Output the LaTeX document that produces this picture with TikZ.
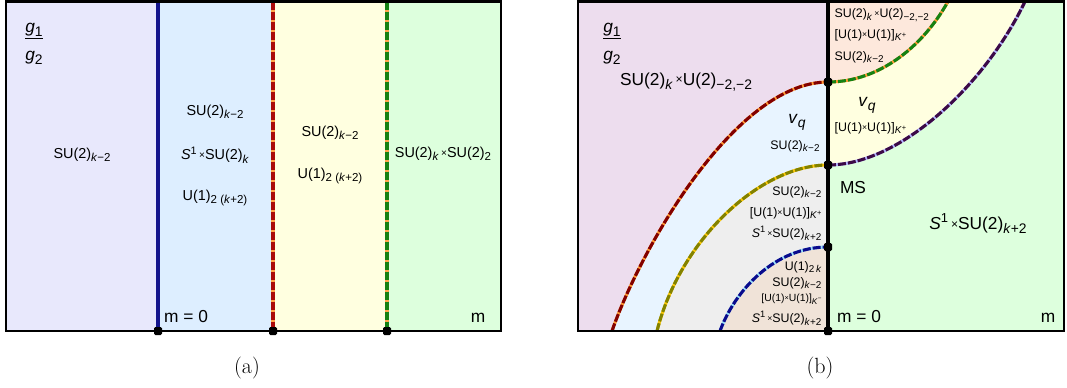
\documentclass[tikz,border=0pt]{standalone}
\usepackage{fontspec}
\usepackage{tikz}
\usetikzlibrary{positioning}
\newfontfamily\labelfont{Liberation Sans}
\definecolor{lavender}{RGB}{232, 232, 252}
\definecolor{paleblue}{RGB}{221, 238, 255}
\definecolor{paleyellow}{RGB}{255, 255, 224}
\definecolor{palegreen}{RGB}{221, 255, 221}
\definecolor{mauve}{RGB}{237, 221, 238}
\definecolor{iceblue}{RGB}{232, 244, 255}
\definecolor{palegray}{RGB}{238, 238, 238}
\definecolor{sand}{RGB}{240, 227, 216}
\definecolor{peach}{RGB}{253, 232, 220}
\definecolor{wallblue}{RGB}{20, 20, 140}
\definecolor{wallred}{RGB}{170, 10, 10}
\definecolor{wallgreen}{RGB}{20, 130, 20}
\definecolor{curvered}{RGB}{130, 0, 0}
\definecolor{curveolive}{RGB}{130, 130, 0}
\definecolor{curveblue}{RGB}{10, 10, 140}
\definecolor{curvepurple}{RGB}{60, 10, 70}
\newcommand{\cross}{\raisebox{0.15ex}{\scalebox{0.7}{×}}}
\newcommand{\lo}[1]{\raisebox{-0.45ex}{\scalebox{0.8}{#1}}}
\newcommand{\hi}[1]{\raisebox{0.75ex}{\scalebox{0.75}{#1}}}

\begin{document}
\begin{tikzpicture}[
    x=0.75pt, y=-0.75pt,
    frame/.style={draw=black, line width=1.6pt},
    wall/.style={line width=2.3pt, dash pattern=on 6pt off 1.5pt},
    under/.style={line width=2.3pt},
    spot/.style={rectangle, rounded corners=1pt, fill=black, inner sep=0pt, minimum size=6pt},
    lbl/.style={font=\labelfont\fontsize{10.8}{12}\selectfont, inner sep=1pt},
    smalllbl/.style={font=\labelfont\fontsize{9.3}{10}\selectfont, inner sep=1pt},
    biglbl/.style={font=\labelfont\fontsize{13}{15}\selectfont, inner sep=1pt},
    capt/.style={font=\fontsize{16.5}{18}\selectfont}
]
\useasboundingbox (0,0) rectangle (1067,387);

% Panel (a): phases
\fill[lavender] (6,1.5) rectangle (158,331);
\fill[paleblue] (158,1.5) rectangle (273,331);
\fill[paleyellow] (273,1.5) rectangle (387,331);
\fill[palegreen] (387,1.5) rectangle (501,331);

\coordinate (a1top) at (158,1.5);
\coordinate (a2top) at (273,1.5);
\coordinate (a3top) at (387,1.5);
\coordinate (a1) at (158,331);
\coordinate (a2) at (273,331);
\coordinate (a3) at (387,331);

% Panel (a): walls
\draw[line width=2.3pt, wallblue] (a1top) -- (a1);
\draw[under, orange!70] (a2top) -- (a2);
\draw[wall, wallred] (a2top) -- (a2);
\draw[under, orange!70] (a3top) -- (a3);
\draw[wall, wallgreen] (a3top) -- (a3);
\draw[frame] (6,1.5) rectangle (501,331);
\node[spot] (a1dot) at (a1) {};
\node[spot] (a2dot) at (a2) {};
\node[spot] (a3dot) at (a3) {};

% Panel (a): labels
\node[biglbl, align=left] (ga) at (34,44) {\underline{\textit{g}\lo{1}}\\[6pt]\textit{g}\lo{2}};
\node[lbl] (aphase1) at (82,155) {SU(2)\lo{\textit{k}−2}};
\node[lbl] (aphase2a) at (215,112) {SU(2)\lo{\textit{k}−2}};
\node[lbl] (aphase2b) at (215,155) {\textit{S}\hi{1}\,\cross SU(2)\lo{\textit{k}}};
\node[lbl] (aphase2c) at (215,198) {U(1)\lo{2 (\textit{k}+2)}};
\node[lbl] (aphase3a) at (330,133) {SU(2)\lo{\textit{k}−2}};
\node[lbl] (aphase3b) at (330,176) {U(1)\lo{2 (\textit{k}+2)}};
\node[lbl] (aphase4) at (443,154) {SU(2)\lo{\textit{k}}\,\cross SU(2)\lo{2}};
\node[biglbl] (am0) at (186,317) {m = 0};
\node[biglbl] (am) at (478,318) {m};

% Panel (b): points on the m = 0 line
\coordinate (btop) at (828,1.5);
\coordinate (p1) at (828,82);
\coordinate (p2) at (828,165);
\coordinate (p3) at (828,247);
\coordinate (p4) at (828,331);
\coordinate (redfoot) at (612,331);
\coordinate (olivefoot) at (657,331);
\coordinate (bluefoot) at (720,331);
\coordinate (greenend) at (948,1.5);
\coordinate (purpleend) at (1025,1.5);

% Panel (b): phases
\fill[mauve] (578,1.5) rectangle (p4);
\fill[palegreen] (btop) rectangle (1064,331);
\fill[iceblue] (redfoot) .. controls (640,250) and (735,82) .. (p1) -- (p4) -- cycle;
\fill[palegray] (olivefoot) .. controls (680,240) and (760,165) .. (p2) -- (p4) -- cycle;
\fill[sand] (bluefoot) .. controls (735,290) and (775,247) .. (p3) -- (p4) -- cycle;
\fill[paleyellow] (p2) .. controls (900,165) and (985,85) .. (purpleend) -- (btop) -- cycle;
\fill[peach] (p1) .. controls (878,82) and (922,48) .. (greenend) -- (btop) -- cycle;

% Panel (b): transition curves
\draw[under, orange!80] (redfoot) .. controls (640,250) and (735,82) .. (p1);
\draw[wall, curvered] (redfoot) .. controls (640,250) and (735,82) .. (p1);
\draw[under, yellow!60!orange] (olivefoot) .. controls (680,240) and (760,165) .. (p2);
\draw[wall, curveolive] (olivefoot) .. controls (680,240) and (760,165) .. (p2);
\draw[under, cyan!40] (bluefoot) .. controls (735,290) and (775,247) .. (p3);
\draw[wall, curveblue] (bluefoot) .. controls (735,290) and (775,247) .. (p3);
\draw[under, orange!80] (p1) .. controls (878,82) and (922,48) .. (greenend);
\draw[wall, wallgreen] (p1) .. controls (878,82) and (922,48) .. (greenend);
\draw[under, blue!30] (p2) .. controls (900,165) and (985,85) .. (purpleend);
\draw[wall, curvepurple] (p2) .. controls (900,165) and (985,85) .. (purpleend);
\draw[line width=2.3pt] (btop) -- (p4);
\draw[frame] (578,1.5) rectangle (1064,331);
\node[spot] (s1) at (p1) {};
\node[spot] (s2) at (p2) {};
\node[spot] (s3) at (p3) {};
\node[spot] (s4) at (p4) {};

% Panel (b): labels
\node[biglbl, align=left] (gb) at (612,44) {\underline{\textit{g}\lo{1}}\\[6pt]\textit{g}\lo{2}};
\node[biglbl] (bphase1) at (686,82) {SU(2)\lo{\textit{k}}\,\cross U(2)\lo{−2,−2}};
\node[biglbl] (bvq1) at (797,122) {\textit{v}\lo{\textit{q}}};
\node[smalllbl] (bphase2) at (795,146) {SU(2)\lo{\textit{k}−2}};
\node[smalllbl, anchor=west] (bphase3a) at (833,15) {SU(2)\lo{\textit{k}}\,\cross U(2)\lo{−2,−2}};
\node[smalllbl, anchor=west] (bphase3b) at (833,35) {[U(1)\cross U(1)]\lo{\textit{K}\hi{+}}};
\node[smalllbl, anchor=west] (bphase3c) at (833,57) {SU(2)\lo{\textit{k}−2}};
\node[biglbl] (bvq2) at (867,105) {\textit{v}\lo{\textit{q}}};
\node[smalllbl, anchor=west] (bphase4) at (833,128) {[U(1)\cross U(1)]\lo{\textit{K}\hi{+}}};
\node[biglbl] (bms) at (853,188) {MS};
\node[biglbl] (bphase5) at (978,224) {\textit{S}\hi{1}\,\cross SU(2)\lo{\textit{k}+2}};
\node[smalllbl, anchor=east] (bphase6a) at (823,192) {SU(2)\lo{\textit{k}−2}};
\node[smalllbl, anchor=east] (bphase6b) at (823,213) {[U(1)\cross U(1)]\lo{\textit{K}\hi{+}}};
\node[smalllbl, anchor=east] (bphase6c) at (823,233) {\textit{S}\hi{1}\,\cross SU(2)\lo{\textit{k}+2}};
\node[smalllbl, anchor=east] (bphase7a) at (823,267) {U(1)\lo{2\,\textit{k}}};
\node[smalllbl, anchor=east] (bphase7b) at (823,283) {SU(2)\lo{\textit{k}−2}};
\node[smalllbl, anchor=east, font=\labelfont\fontsize{7.8}{9}\selectfont] (bphase7c) at (823,299) {[U(1)\cross U(1)]\lo{\textit{K}\hi{−}}};
\node[smalllbl, anchor=east] (bphase7d) at (823,318) {\textit{S}\hi{1}\,\cross SU(2)\lo{\textit{k}+2}};
\node[biglbl] (bm0) at (859,317) {m = 0};
\node[biglbl] (bm) at (1048,318) {m};

% Captions
\node[capt] (capa) at (247,368) {(a)};
\node[capt] (capb) at (820,368) {(b)};

\end{tikzpicture}
\end{document}
